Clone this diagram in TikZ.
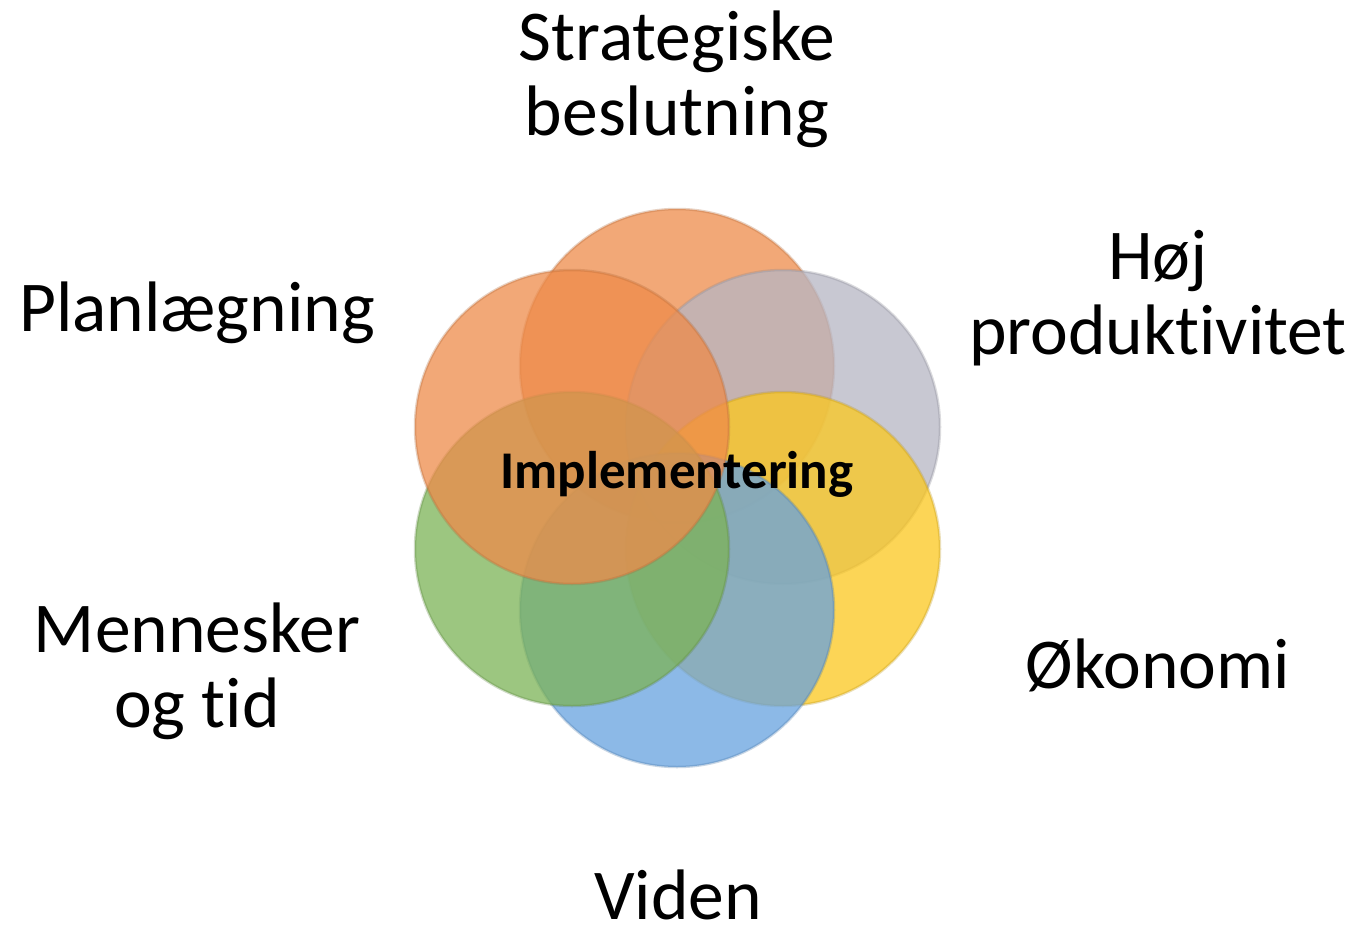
\documentclass[tikz,border=0pt]{standalone}
\usepackage{fontspec}
\setmainfont{Carlito}[RawFeature={-liga}]
\definecolor{cOrange}{RGB}{238,139,74}
\definecolor{cGray}{RGB}{182,182,196}
\definecolor{cYellow}{RGB}{252,200,30}
\definecolor{cBlue}{RGB}{102,162,224}
\definecolor{cGreen}{RGB}{124,179,86}
\begin{document}
\begin{tikzpicture}[x=1pt,y=-1pt,
  lbl/.style={font=\fontsize{71.5}{75}\selectfont, align=center, inner sep=0pt},
  lbls/.style={font=\fontsize{71.5}{75}\selectfont, inner sep=0pt, anchor=base},
  ctr/.style={font=\fontsize{53}{60}\selectfont\bfseries, inner sep=0pt},
  bubble/.style={circle, minimum size=314pt, inner sep=0pt, fill=#1, fill opacity=0.75,
    draw=#1!75!black, draw opacity=0.3, line width=2.5pt}
]
\useasboundingbox (0,0) rectangle (1358,927);
\fill[white] (0,0) rectangle (1358,927);

\node[bubble=cOrange] (c1) at (677,366) {};
\node[bubble=cGray]   (c2) at (783,427) {};
\node[bubble=cYellow] (c3) at (783,549) {};
\node[bubble=cBlue]   (c4) at (677,610) {};
\node[bubble=cGreen]  (c5) at (572,549) {};
\node[bubble=cOrange] (c6) at (572,427) {};

\node[ctr, anchor=base] (impl) at (677,488) {Implementering};

\node[lbl] (t1) at (677,79) {Strategiske\\beslutning};
\node[lbl] (t2) at (1158,298) {Høj\\produktivitet};
\node[lbls] (t3) at (1158,688) {Økonomi};
\node[lbls] (t4) at (678,919) {Viden};
\node[lbl] (t5) at (197,671) {Mennesker\\og tid};
\node[lbls] (t6) at (197,331) {Planlægning};
\end{tikzpicture}
\end{document}
